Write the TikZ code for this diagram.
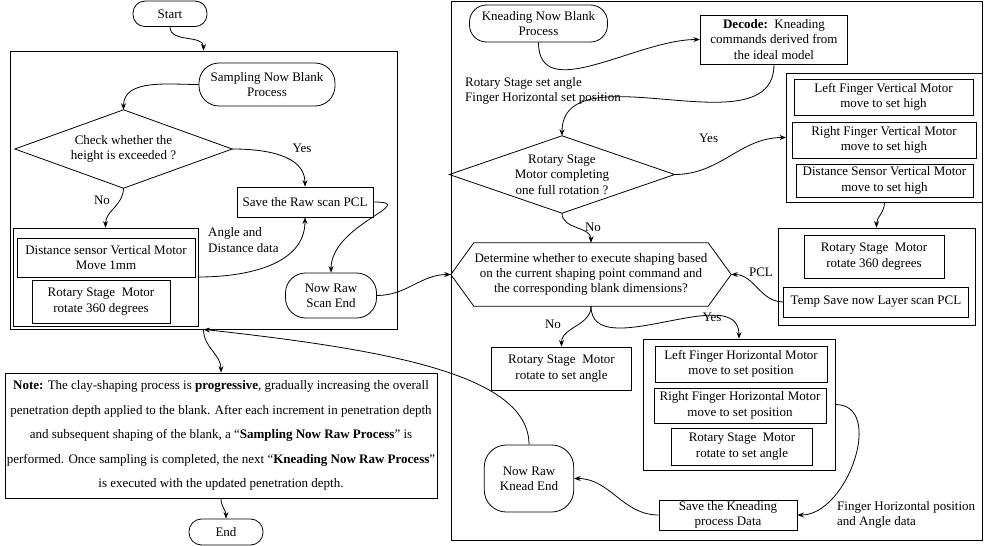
\documentclass[tikz,border=0pt]{standalone}
\usepackage{fontspec}
\setmainfont{Liberation Serif}
\usetikzlibrary{arrows.meta}
\begin{document}
\begin{tikzpicture}[x=1pt,y=1pt,
  font=\fontsize{13pt}{15.3pt}\selectfont,
  lw/.style={line width=0.8pt},
  box/.style={draw,lw,inner sep=0pt,align=center},
  term/.style={box,rounded corners=#1},
  txt/.style={inner sep=0pt,align=center},
  lbl/.style={inner sep=0pt,align=left,anchor=west},
  arr/.style={lw,-{Stealth[length=6.5pt,width=5pt]}},
]
\useasboundingbox (0,0) rectangle (996,-546);

% ---------------- left part ----------------
\node[term=12pt,minimum width=74pt,minimum height=25.5pt] (start) at (170,-13.8) {Start};
\node[box,minimum width=387pt,minimum height=278pt] (bigL) at (203.5,-190) {};
\node[term=20pt,minimum width=136pt,minimum height=43pt] (samp) at (267,-84.5) {Sampling Now Blank\\Process};
\node[txt,minimum width=217pt,minimum height=78pt] (d1) at (123.5,-149) {Check whether the\\height is exceeded ?};
\draw[lw] (d1.north)--(d1.east)--(d1.south)--(d1.west)--cycle;
\node[box,minimum width=136pt,minimum height=30pt] (save1) at (305,-202) {Save the Raw scan PCL};
\node[box,minimum width=185pt,minimum height=98pt] (grp1) at (105.5,-277) {};
\node[box,minimum width=178pt,minimum height=39pt] (dsv) at (106,-257.5) {Distance sensor Vertical Motor\\Move 1mm};
\node[box,minimum width=138pt,minimum height=43pt] (rsm1) at (101,-301.5) {Rotary Stage\ \ Motor\\rotate 360 degrees};
\node[term=20pt,minimum width=91pt,minimum height=45pt] (send) at (331,-295.5) {Now Raw\\Scan End};
\node[box,minimum width=432pt,minimum height=125pt,font=\fontsize{13pt}{24.5pt}\selectfont] (note) at (221,-435.5)
{\textbf{Note:} The clay-shaping process is \textbf{progressive}, gradually increasing the overall\\
penetration depth applied to the blank. After each increment in penetration depth\\
and subsequent shaping of the blank, a “\textbf{Sampling Now Raw Process}” is\\
performed. Once sampling is completed, the next “\textbf{Kneading Now Raw Process}”\\
is executed with the updated penetration depth.};
\node[term=12.5pt,minimum width=74pt,minimum height=26pt] (endn) at (226,-532) {End};

\node[txt] (yes1) at (302,-148) {Yes};
\node[txt] (no1) at (102,-200) {No};
\node[lbl] (angl) at (208,-240) {Angle and\\Distance data};

% ---------------- right part ----------------
\node[box,minimum width=531pt,minimum height=539pt] (bigR) at (716.5,-270.5) {};
\node[term=17pt,minimum width=138pt,minimum height=37pt] (kstart) at (538.5,-23.5) {Kneading Now Blank\\Process};
\node[box,minimum width=147.5pt,minimum height=49pt] (dec) at (774,-39.5) {\textbf{Decode:}\ \ Kneading\\commands derived from\\the ideal model};
\node[lbl] (setl) at (465,-91) {Rotary Stage set angle\\Finger Horizontal set position};
\node[txt,minimum width=225pt,minimum height=77pt] (d2) at (562,-174.5) {Rotary Stage\\Motor completing\\one full rotation ?};
\draw[lw] (d2.north)--(d2.east)--(d2.south)--(d2.west)--cycle;

\node[box,minimum width=196pt,minimum height=129pt] (vgrp) at (884.5,-137.5) {};
\node[box,minimum width=179pt,minimum height=36pt] (lfv) at (883.5,-97) {Left Finger Vertical Motor\\move to set high};
\node[box,minimum width=184pt,minimum height=36pt] (rfv) at (884,-140) {Right Finger Vertical Motor\\move to set high};
\node[box,minimum width=177pt,minimum height=33pt] (dsv2) at (884.5,-180.5) {Distance Sensor Vertical Motor\\move to set high};

\node[box,minimum width=197pt,minimum height=97pt] (rgrp) at (876.5,-276.5) {};
\node[box,minimum width=140pt,minimum height=43pt] (r360) at (874,-256.5) {Rotary Stage\ \ Motor\\rotate 360 degrees};
\node[box,minimum width=184.5pt,minimum height=30pt] (tsave) at (876,-302) {Temp Save now Layer scan PCL};

\node[txt,minimum width=280pt,minimum height=63pt] (hex) at (591,-274.5) {Determine whether to execute shaping based\\on the current shaping point command and\\the corresponding blank dimensions?};
\draw[lw] (hex.west)--([xshift=23pt]hex.north west)--([xshift=-23pt]hex.north east)--(hex.east)
  --([xshift=-23pt]hex.south east)--([xshift=23pt]hex.south west)--cycle;

\node[box,minimum width=140pt,minimum height=43pt] (rsa) at (561.5,-368.5) {Rotary Stage\ \ Motor\\rotate to set angle};
\node[box,minimum width=192pt,minimum height=131pt] (hgrp) at (739,-404.5) {};
\node[box,minimum width=172pt,minimum height=36pt] (lfh) at (741,-364) {Left Finger Horizontal Motor\\move to set position};
\node[box,minimum width=172pt,minimum height=35pt] (rfh) at (740,-405.5) {Right Finger Horizontal Motor\\move to set position};
\node[box,minimum width=141pt,minimum height=37pt] (rsa2) at (742,-446.5) {Rotary Stage\ \ Motor\\rotate to set angle};
\node[box,minimum width=138pt,minimum height=30pt] (skd) at (728,-515) {Save the Kneading\\process Data};
\node[term=22pt,minimum width=89.5pt,minimum height=67pt] (kend) at (529,-478.5) {Now Raw\\Knead End};

\node[txt] (yes2) at (708.6,-138) {Yes};
\node[txt] (no2) at (593,-227) {No};
\node[txt] (pcl) at (761,-272) {PCL};
\node[txt] (no3) at (553,-324) {No};
\node[txt] (yes3) at (712,-317) {Yes};
\node[lbl] (fhl) at (837,-515) {Finger Horizontal position\\and Angle data};

% ---------------- connectors ----------------
\draw[arr] (start.south) to[out=-90,in=90] (bigL.north);
\draw[arr] (samp.west) to[out=180,in=90] (d1.north);
\draw[arr] (d1.east) to[out=0,in=90] (save1.north);
\draw[arr] (d1.south) to[out=-90,in=90] (grp1.north);
\draw[arr] (grp1.east) to[out=0,in=-90] (save1.south);
\draw[arr] (save1.east) to[out=0,in=90,looseness=1.5] (send.north);
\draw[arr] (send.east) to[out=0,in=180] (hex.west);
\draw[arr] (bigL.south) to[out=-90,in=90] (note.north);
\draw[arr] (note.south) to[out=-90,in=90] (endn.north);
\draw[arr] (kend.north) .. controls (529,-375) and (390,-350) .. (bigL.south);

\draw[arr] (kstart.south) to[out=-90,in=180] (dec.west);
\draw[arr] (dec.south) to[out=-90,in=90] (d2.north);
\draw[arr] (d2.east) to[out=0,in=180] (vgrp.west);
\draw[arr] (vgrp.south) to[out=-90,in=90] (rgrp.north);
\draw[arr] (tsave.west) to[out=180,in=0] (hex.east);
\draw[arr] (d2.south) to[out=-90,in=90] (hex.north);
\draw[arr] (hex.south) to[out=-90,in=90] (rsa.north);
\draw[arr] (hex.south) to[out=-90,in=90] (hgrp.north);
\draw[arr] (hgrp.east) to[out=0,in=0,looseness=1.1] (skd.east);
\draw[arr] (skd.west) to[out=180,in=0] (kend.east);
\end{tikzpicture}
\end{document}
